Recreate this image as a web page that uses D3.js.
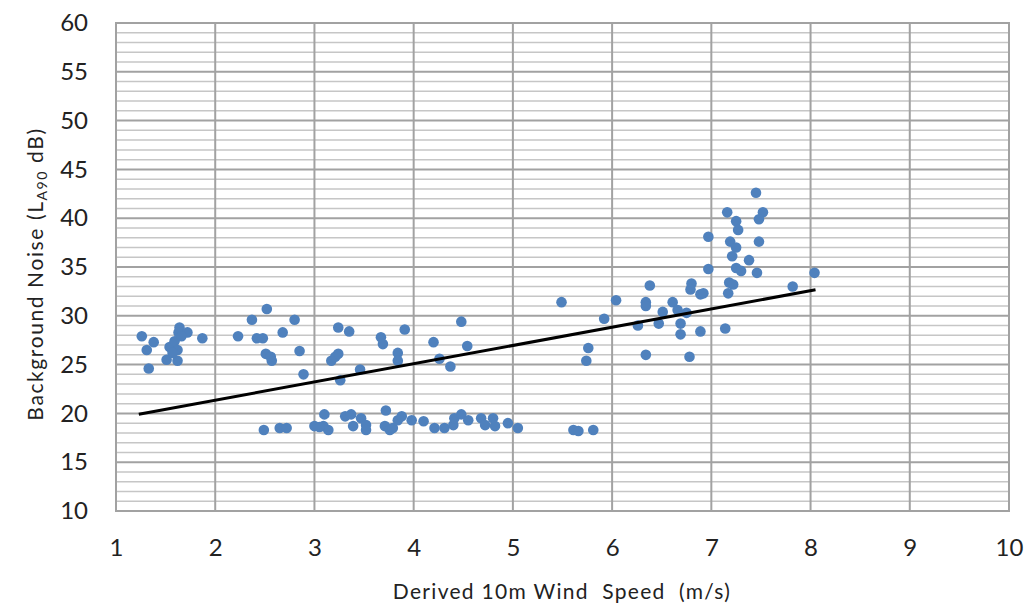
<!DOCTYPE html>
<html>
<head>
<meta charset="utf-8">
<script src="https://cdn.jsdelivr.net/npm/d3@7"></script>
<style>
  html, body { margin: 0; padding: 0; background: #fff; }
  svg { display: block; }
  text { font-family: Lato, "Open Sans", sans-serif; fill: #222; }
</style>
</head>
<body>
<svg id="chart" width="1024" height="607"></svg>
<script>
// Wind speed (m/s) of each measurement interval
const windSpeed = [
  1.26, 1.38, 1.31, 1.33, 1.51, 1.62, 1.54, 1.59, 1.64, 1.63, 1.72, 1.62, 1.57, 1.66, 1.87,
  2.23, 2.37, 2.52, 2.42, 2.48, 2.68, 2.80, 2.51, 2.57, 2.56, 2.85, 2.89,
  2.49, 2.65, 2.72,
  3.24, 3.35, 3.17, 3.21, 3.24, 3.26, 3.46, 3.67, 3.69, 3.91, 3.84, 3.84, 4.20, 4.26, 4.37, 4.48, 4.54,
  3.00, 3.10, 3.09, 3.14, 3.05, 3.31, 3.37, 3.39, 3.47, 3.52, 3.52, 3.72, 3.71, 3.76, 3.79, 3.84,
  3.88, 3.98, 4.10, 4.21, 4.31, 4.40, 4.41, 4.48, 4.55, 4.68, 4.72, 4.80, 4.82, 4.95, 5.05,
  5.49, 5.92, 6.04, 5.76, 5.74, 5.61, 5.66, 5.81,
  6.38, 6.34, 6.34, 6.26, 6.34, 6.47, 6.51, 6.61, 6.66, 6.75, 6.69, 6.69, 6.78, 6.80, 6.79,
  6.89, 6.92, 6.89, 7.14, 6.97, 6.97,
  7.45, 7.16, 7.52, 7.48, 7.25, 7.27, 7.19, 7.25, 7.48, 7.21, 7.38, 7.25, 7.30, 7.46, 8.04,
  7.82, 7.18, 7.22, 7.17
];

// Background noise level LA90 (dB) for the same intervals
const noiseLevel = [
  27.9, 27.3, 26.5, 24.6, 25.5, 25.4, 26.8, 27.4, 28.8, 28.3, 28.3, 26.5, 26.2, 27.9, 27.7,
  27.9, 29.6, 30.7, 27.7, 27.7, 28.3, 29.6, 26.1, 25.4, 25.8, 26.4, 24.0,
  18.3, 18.5, 18.5,
  28.8, 28.4, 25.4, 25.8, 26.1, 23.4, 24.5, 27.8, 27.1, 28.6, 26.2, 25.4, 27.3, 25.6, 24.8, 29.4, 26.9,
  18.7, 19.9, 18.7, 18.3, 18.6, 19.7, 19.9, 18.7, 19.5, 18.8, 18.3, 20.3, 18.7, 18.3, 18.5, 19.3,
  19.7, 19.3, 19.2, 18.5, 18.5, 18.8, 19.5, 19.9, 19.3, 19.5, 18.8, 19.5, 18.7, 19.0, 18.5,
  31.4, 29.7, 31.6, 26.7, 25.4, 18.3, 18.2, 18.3,
  33.1, 31.4, 31.0, 29.0, 26.0, 29.2, 30.4, 31.4, 30.6, 30.3, 29.2, 28.1, 25.8, 33.3, 32.7,
  32.2, 32.3, 28.4, 28.7, 38.1, 34.8,
  42.6, 40.6, 40.6, 39.9, 39.7, 38.8, 37.6, 37.0, 37.6, 36.1, 35.7, 34.9, 34.6, 34.4, 34.4,
  33.0, 33.4, 33.2, 32.3
];

// Linear trend line fitted to the measurements: LA90 = slope * speed + intercept
const trendSlope = 1.87;
const trendIntercept = 17.61;

// Axis ticks
const xTicks = [1, 2, 3, 4, 5, 6, 7, 8, 9, 10];
const yTicks = [10, 15, 20, 25, 30, 35, 40, 45, 50, 55, 60];
const yMinorTicks = d3.range(10, 61, 1);

const margin = { left: 116, top: 23, right: 15, bottom: 96 };
const width = 1024 - margin.left - margin.right;   // 893
const height = 607 - margin.top - margin.bottom;   // 488

const svg = d3.select("#chart");
const g = svg.append("g").attr("transform", `translate(${margin.left},${margin.top})`);

const x = d3.scaleLinear().domain([1, 10]).range([0, width]);
const y = d3.scaleLinear().domain([10, 60]).range([height, 0]);

// Minor horizontal grid (every 1 dB)
g.append("g")
  .selectAll("line")
  .data(yMinorTicks.filter(v => v % 5 !== 0))
  .join("line")
  .attr("x1", 0).attr("x2", width)
  .attr("y1", d => y(d)).attr("y2", d => y(d))
  .attr("stroke", "#c6c6c6")
  .attr("stroke-width", 1.5);

// Major horizontal grid (every 5 dB)
g.append("g")
  .selectAll("line")
  .data(yTicks)
  .join("line")
  .attr("x1", 0).attr("x2", width)
  .attr("y1", d => y(d)).attr("y2", d => y(d))
  .attr("stroke", "#a2a2a2")
  .attr("stroke-width", 2);

// Vertical grid (every 1 m/s)
g.append("g")
  .selectAll("line")
  .data(xTicks)
  .join("line")
  .attr("x1", d => x(d)).attr("x2", d => x(d))
  .attr("y1", 0).attr("y2", height)
  .attr("stroke", "#a2a2a2")
  .attr("stroke-width", 2);

// Plot frame
g.append("rect")
  .attr("x", 0).attr("y", 0)
  .attr("width", width).attr("height", height)
  .attr("fill", "none")
  .attr("stroke", "#a2a2a2")
  .attr("stroke-width", 2);

// Y axis tick labels
const yAxis = d3.axisLeft(y).tickValues(yTicks).tickSize(0).tickPadding(28);
g.append("g").call(yAxis)
  .call(s => s.select(".domain").remove())
  .call(s => s.selectAll("text")
    .attr("font-family", "Lato, 'Open Sans', sans-serif")
    .attr("font-size", 24)
    .attr("fill", "#222"));

// X axis tick labels
const xAxis = d3.axisBottom(x).tickValues(xTicks).tickSize(0).tickPadding(28);
g.append("g").attr("transform", `translate(0,${height})`).call(xAxis)
  .call(s => s.select(".domain").remove())
  .call(s => s.selectAll("text")
    .attr("font-family", "Lato, 'Open Sans', sans-serif")
    .attr("font-size", 24)
    .attr("fill", "#222"));

// Measurement points
const points = windSpeed.map((s, i) => ({ s, n: noiseLevel[i] }));
g.append("g")
  .selectAll("circle")
  .data(points)
  .join("circle")
  .attr("cx", d => x(d.s))
  .attr("cy", d => y(d.n))
  .attr("r", 5.3)
  .attr("fill", "#4f81bd");

// Trend line across the measured speed range
const [sMin, sMax] = d3.extent(windSpeed);
const trend = [sMin - 0.03, sMax + 0.01].map(s => [s, trendSlope * s + trendIntercept]);
g.append("path")
  .datum(trend)
  .attr("d", d3.line().x(d => x(d[0])).y(d => y(d[1])))
  .attr("fill", "none")
  .attr("stroke", "#000")
  .attr("stroke-width", 3);

// X axis title
svg.append("text")
  .attr("x", 562)
  .attr("y", 599)
  .attr("text-anchor", "middle")
  .attr("font-size", 21)
  .attr("letter-spacing", 1.3)
  .style("white-space", "pre")
  .text("Derived 10m Wind  Speed  (m/s)");

// Y axis title with subscript
const yTitle = svg.append("text")
  .attr("transform", "translate(43,274) rotate(-90)")
  .attr("text-anchor", "middle")
  .attr("font-size", 21)
  .attr("letter-spacing", 1.6);
yTitle.append("tspan").text("Background Noise (L");
yTitle.append("tspan").attr("font-size", 14).attr("dy", 4).text("A90");
yTitle.append("tspan").attr("dy", -4).text(" dB)");
</script>
</body>
</html>
